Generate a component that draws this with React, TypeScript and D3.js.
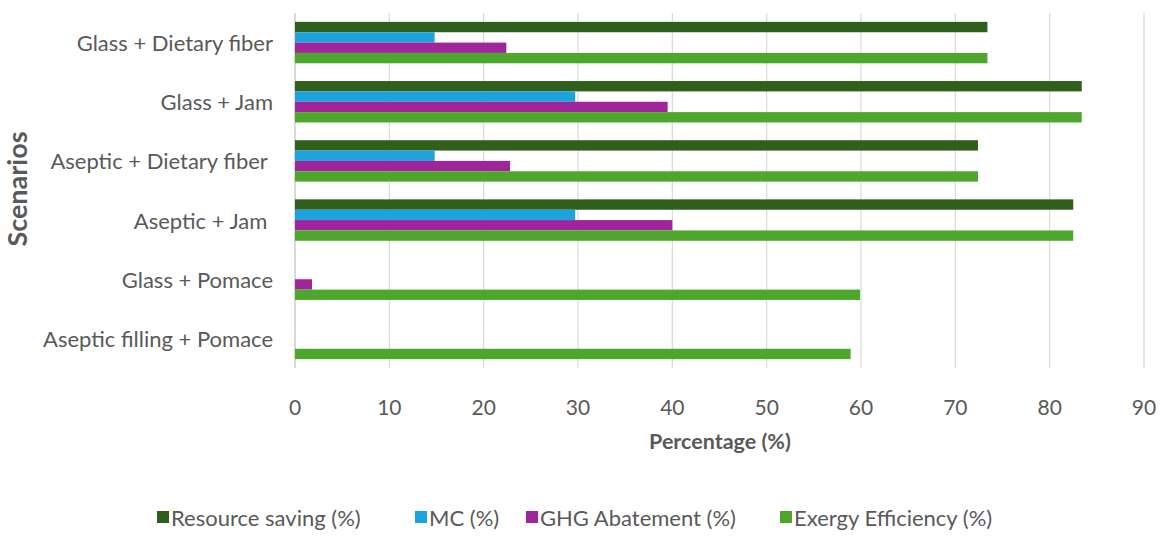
import React from 'react';
import * as d3 from 'd3';

const scenarios = [
  'Glass + Dietary fiber',
  'Glass + Jam',
  'Aseptic + Dietary fiber ',
  'Aseptic + Jam ',
  'Glass + Pomace',
  'Aseptic filling + Pomace',
];

const seriesNames = ['Resource saving (%)', 'MC (%)', 'GHG Abatement (%)', 'Exergy Efficiency (%)'];
const seriesColors = ['#2f5f1a', '#1ca3dc', '#a0259b', '#4ea72c'];

const resourceSaving = [73.4, 83.4, 72.4, 82.5, 0, 0];
const mc = [14.8, 29.7, 14.8, 29.7, 0, 0];
const ghgAbatement = [22.4, 39.5, 22.8, 40.0, 1.8, 0];
const exergyEfficiency = [73.4, 83.4, 72.4, 82.5, 59.9, 58.9];

const xTicks = [0, 10, 20, 30, 40, 50, 60, 70, 80, 90];

const legendX = [157, 415, 526, 780];

const W = 1170;
const H = 541;
const font = 'Lato, "Open Sans", sans-serif';
const textColor = '#595959';

export default function App() {
  const values = [resourceSaving, mc, ghgAbatement, exergyEfficiency];

  const x = d3.scaleLinear().domain([0, 90]).range([295, 1144]);
  const y = d3.scaleBand<string>().domain(scenarios).range([13, 368]).paddingInner(0.3).paddingOuter(0.15);
  const inner = d3.scaleBand<string>().domain(seriesNames).range([0, y.bandwidth()]).padding(0);

  return (
    <svg width={W} height={H} style={{ position: 'absolute', left: 0, top: 0, background: '#fff' }} fontFamily={font}>
      {/* gridlines */}
      {xTicks.map(t => (
        <line key={t} x1={x(t)} x2={x(t)} y1={13} y2={368} stroke={t === 0 ? '#bfbfbf' : '#d9d9d9'} strokeWidth={1.2} />
      ))}

      {/* bars */}
      {scenarios.map((s, i) => (
        <g key={s} transform={`translate(0,${y(s)})`}>
          {seriesNames.map((name, j) =>
            values[j][i] > 0 ? (
              <rect
                key={name}
                x={x(0)}
                y={inner(name)}
                width={x(values[j][i]) - x(0)}
                height={inner.bandwidth()}
                fill={seriesColors[j]}
              />
            ) : null
          )}
        </g>
      ))}

      {/* category labels */}
      {scenarios.map(s => (
        <text
          key={s}
          x={273}
          y={(y(s) ?? 0) + y.bandwidth() / 2}
          textAnchor="end"
          dominantBaseline="central"
          fontSize={22}
          fill={textColor}
          style={{ whiteSpace: 'pre' }}
        >
          {s}
        </text>
      ))}

      {/* x tick labels */}
      {xTicks.map(t => (
        <text key={t} x={x(t)} y={406} textAnchor="middle" dominantBaseline="central" fontSize={21} fill={textColor}>
          {t}
        </text>
      ))}

      {/* axis titles */}
      <text x={720} y={441} textAnchor="middle" dominantBaseline="central" fontSize={21.5} fontWeight="bold" fill={textColor}>
        Percentage (%)
      </text>
      <text
        transform="translate(16,189) rotate(-90)"
        textAnchor="middle"
        dominantBaseline="central"
        fontSize={27}
        fontWeight="bold"
        fill={textColor}
      >
        Scenarios
      </text>

      {/* legend */}
      {seriesNames.map((name, j) => (
        <g key={name} transform={`translate(${legendX[j]},517)`}>
          <rect x={0} y={-6} width={12} height={12} fill={seriesColors[j]} />
          <text x={14} y={0} dominantBaseline="central" fontSize={22} fill={textColor}>
            {name}
          </text>
        </g>
      ))}
    </svg>
  );
}
